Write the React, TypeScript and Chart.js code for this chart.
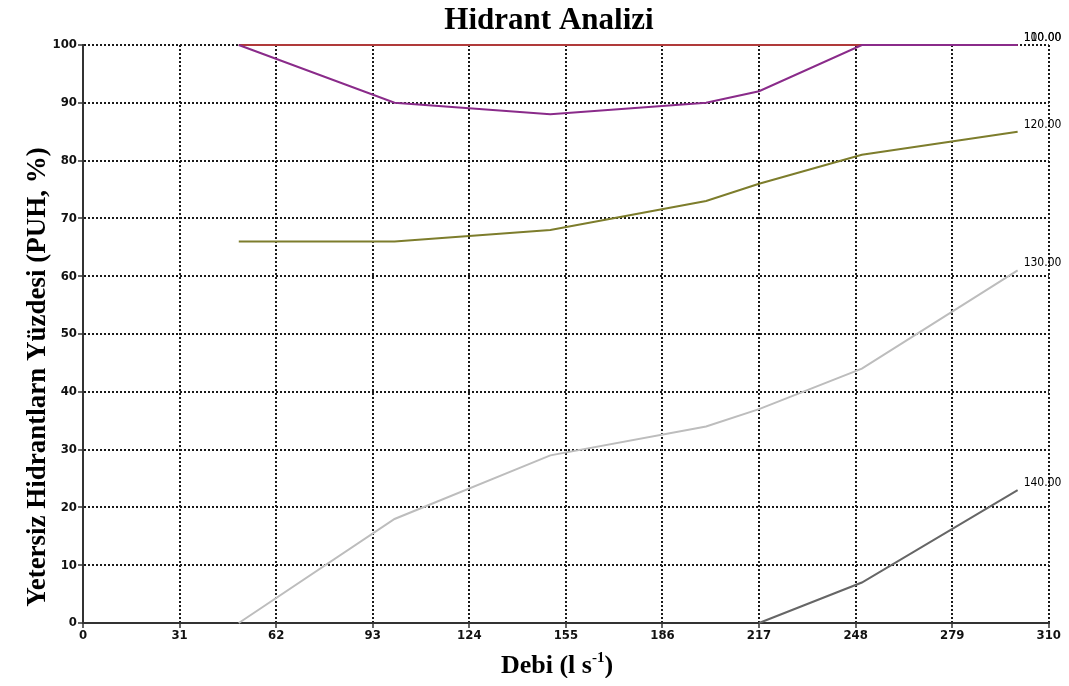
import { useEffect, useRef } from 'react';
import { Chart, registerables } from 'chart.js';

Chart.register(...registerables);

const debi = [50, 100, 150, 200, 217, 250, 300];
const s100 = [100, 100, 100, 100, 100, 100, 100];
const s110 = [100, 90, 88, 90, 92, 100, 100];
const s120 = [66, 66, 68, 73, 76, 81, 85];
const s130 = [0, 18, 29, 34, 37, 44, 61];
const s140: (number | null)[] = [null, null, null, null, 0, 7, 23];
const seriesNames = ['100.00', '110.00', '120.00', '130.00', '140.00'];
const seriesColors = ['#b03a3a', '#8a2b8a', '#7d7d2c', '#bdbdbd', '#666666'];

const X_STEP = 31;
const X_MAX = 310;
const Y_STEP = 10;
const Y_MAX = 100;

const TITLE = 'Hidrant Analizi';
const Y_TITLE = 'Yetersiz Hidrantlarn Yüzdesi (PUH, %)';
const X_TITLE_MAIN = 'Debi (l s';
const X_TITLE_SUP = '-1';
const X_TITLE_END = ')';

const tickFont = "'Liberation Sans Narrow', 'DejaVu Sans Condensed', 'Arial Narrow', sans-serif";
const serif = "'Liberation Serif', 'Times New Roman', serif";

function toPoints(vals: (number | null)[]) {
  const pts: { x: number; y: number }[] = [];
  vals.forEach((v, i) => {
    if (v !== null) pts.push({ x: debi[i], y: v });
  });
  return pts;
}

const textPlugin = {
  id: 'textPlugin',
  afterDraw(chart: any) {
    const ctx = chart.ctx;
    const area = chart.chartArea;
    ctx.save();
    // end labels
    ctx.font = `12px ${tickFont}`;
    ctx.fillStyle = '#000';
    ctx.textAlign = 'left';
    ctx.textBaseline = 'alphabetic';
    chart.data.datasets.forEach((ds: any, i: number) => {
      const meta = chart.getDatasetMeta(i);
      const last = meta.data[meta.data.length - 1];
      if (!last) return;
      ctx.fillText(ds.label, last.x + 6, last.y - 4);
    });
    // main title
    ctx.font = `bold 31px ${serif}`;
    ctx.textAlign = 'center';
    ctx.textBaseline = 'middle';
    ctx.fillText(TITLE, 541, 13);
    // y title
    ctx.save();
    ctx.translate(30, 369);
    ctx.rotate(-Math.PI / 2);
    ctx.font = `bold 27px ${serif}`;
    ctx.fillText(Y_TITLE, 0, 0);
    ctx.restore();
    // x title with superscript
    ctx.textAlign = 'left';
    ctx.textBaseline = 'alphabetic';
    const big = `bold 26px ${serif}`;
    const small = `bold 15px ${serif}`;
    ctx.font = big;
    const w1 = ctx.measureText(X_TITLE_MAIN).width;
    ctx.font = small;
    const w2 = ctx.measureText(X_TITLE_SUP).width;
    ctx.font = big;
    const w3 = ctx.measureText(X_TITLE_END).width;
    const total = w1 + w2 + w3;
    const cx = 549;
    const base = area.bottom + 50;
    let x = cx - total / 2;
    ctx.fillText(X_TITLE_MAIN, x, base);
    x += w1;
    ctx.font = small;
    ctx.fillText(X_TITLE_SUP, x, base - 11);
    x += w2;
    ctx.font = big;
    ctx.fillText(X_TITLE_END, x, base);
    ctx.restore();
  },
};

export default function App() {
  const ref = useRef<HTMLCanvasElement | null>(null);
  useEffect(() => {
    if (!ref.current) return;
    const all = [s100, s110, s120, s130, s140];
    const chart = new Chart(ref.current, {
      type: 'line',
      data: {
        datasets: all.map((vals, i) => ({
          label: seriesNames[i],
          data: toPoints(vals),
          borderColor: seriesColors[i],
          backgroundColor: seriesColors[i],
          borderWidth: 2,
          pointRadius: 0,
          tension: 0,
          order: 10 - i,
          clip: 4,
        })),
      },
      options: {
        animation: false,
        responsive: true,
        maintainAspectRatio: false,
        layout: { padding: { top: 37, right: 7, left: 0, bottom: 0 } },
        plugins: {
          legend: { display: false },
          tooltip: { enabled: false },
          title: { display: false },
        },
        scales: {
          x: {
            type: 'linear',
            min: 0,
            max: X_MAX,
            z: 1,
            ticks: {
              stepSize: X_STEP,
              color: '#111',
              padding: 0,
              maxRotation: 0,
              font: { family: tickFont, size: 13, weight: 'bold' },
            },
            grid: {
              color: '#1a1a1a',
              lineWidth: 2,
              drawTicks: true,
              tickLength: 5,
              tickColor: '#333',
              tickBorderDash: [],
              tickWidth: 1.5,
            },
            border: { display: true, color: '#333', width: 2, dash: [2, 2] },
            afterFit(scale: any) {
              scale.height = 55;
            },
          },
          y: {
            type: 'linear',
            min: 0,
            max: Y_MAX,
            z: 1,
            ticks: {
              stepSize: Y_STEP,
              color: '#111',
              padding: 1,
              font: { family: tickFont, size: 13, weight: 'bold' },
            },
            grid: {
              color: '#1a1a1a',
              lineWidth: 2,
              drawTicks: true,
              tickLength: 5,
              tickColor: '#333',
              tickBorderDash: [],
              tickWidth: 1.5,
            },
            border: { display: true, color: '#333', width: 2, dash: [2, 2] },
            afterFit(scale: any) {
              scale.width = 75;
            },
          },
        },
      },
      plugins: [textPlugin],
    });
    return () => chart.destroy();
  }, []);
  return (
    <div style={{ width: 1053, height: 670, position: 'relative' }}>
      <canvas ref={ref} />
    </div>
  );
}
